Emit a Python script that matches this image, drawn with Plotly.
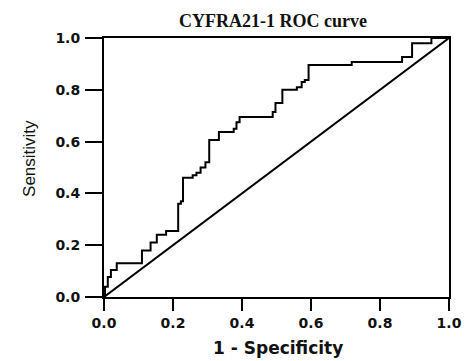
import plotly.graph_objects as go

# ROC curve data (1 - Specificity, Sensitivity), step points
fpr = [0.0, 0.003, 0.011, 0.02, 0.037, 0.11, 0.135, 0.153, 0.18, 0.215, 0.223, 0.229,
       0.257, 0.268, 0.28, 0.294, 0.305, 0.333, 0.376, 0.384, 0.393, 0.489, 0.497,
       0.517, 0.559, 0.573, 0.582, 0.593, 0.718, 0.864, 0.893, 0.949, 1.0]
tpr = [0.0, 0.04, 0.077, 0.104, 0.13, 0.18, 0.21, 0.24, 0.255, 0.36, 0.37, 0.46,
       0.47, 0.48, 0.50, 0.52, 0.606, 0.637, 0.65, 0.675, 0.695, 0.714, 0.749,
       0.80, 0.81, 0.83, 0.838, 0.896, 0.907, 0.927, 0.98, 1.0, 1.0]
ref_x = [0.0, 1.0]
ref_y = [0.0, 1.0]
tick_vals = [0.0, 0.2, 0.4, 0.6, 0.8, 1.0]
tick_text = ["0.0", "0.2", "0.4", "0.6", "0.8", "1.0"]

fig = go.Figure()
fig.add_trace(go.Scatter(x=fpr, y=tpr, mode="lines", line=dict(color="black", width=2, shape="hv"),
                         cliponaxis=False, showlegend=False, hoverinfo="skip"))
fig.add_trace(go.Scatter(x=ref_x, y=ref_y, mode="lines", line=dict(color="black", width=2),
                         cliponaxis=False, showlegend=False, hoverinfo="skip"))

tickfont = dict(family="DejaVu Sans", size=14, color="#111", weight="bold")
fig.update_layout(
    width=474, height=361,
    margin=dict(l=104, r=16, t=38, b=64),
    paper_bgcolor="white", plot_bgcolor="white",
    xaxis=dict(range=[0, 1], tickvals=tick_vals, ticktext=tick_text, showgrid=False, zeroline=False,
               showline=True, linecolor="black", linewidth=2, mirror=True,
               ticks="outside", ticklen=12, tickwidth=2, tickcolor="black",
               tickfont=tickfont, ticklabelstandoff=0),
    yaxis=dict(range=[0, 1], tickvals=tick_vals, ticktext=tick_text, showgrid=False, zeroline=False,
               showline=True, linecolor="black", linewidth=2, mirror=True,
               ticks="outside", ticklen=17, tickwidth=2, tickcolor="black",
               tickfont=tickfont, ticklabelstandoff=2),
    annotations=[
        dict(text="<b>CYFRA21-1 ROC curve</b>", xref="paper", yref="paper", x=0.49, y=(297 - 21) / 259,
             xanchor="center", yanchor="middle", showarrow=False,
             font=dict(family="Liberation Serif", size=18, color="#111")),
        dict(text="1 - Specificity", xref="paper", yref="paper", x=0.503, y=(297 - 348) / 259,
             xanchor="center", yanchor="middle", showarrow=False,
             font=dict(family="DejaVu Sans", size=17, color="#111", weight="bold")),
        dict(text="Sensitivity", xref="paper", yref="paper", x=(27 - 104) / 354, y=(297 - 158) / 259,
             xanchor="center", yanchor="middle", showarrow=False, textangle=-90,
             font=dict(family="Liberation Sans", size=17, color="#111")),
    ],
)
fig.write_html("out.html")
